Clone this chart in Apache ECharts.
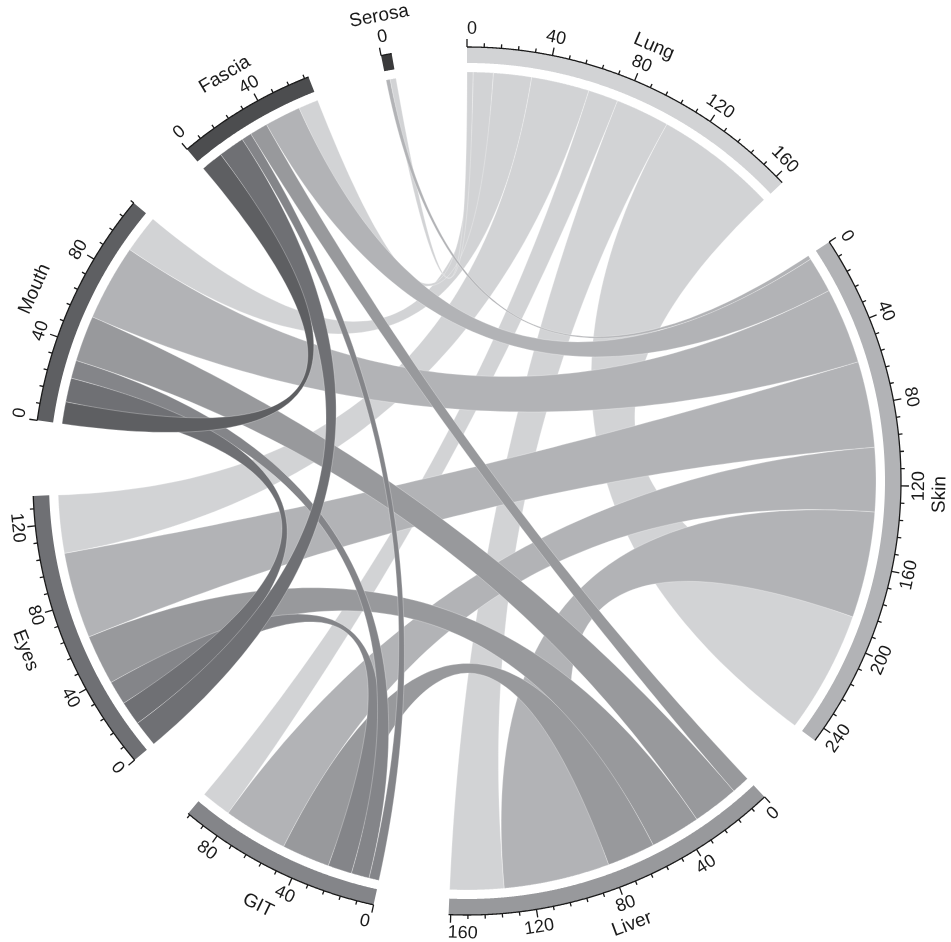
<!DOCTYPE html>
<html>
<head>
<meta charset="utf-8">
<script src="https://cdn.jsdelivr.net/npm/echarts@6/dist/echarts.min.js"></script>
<style>
  html, body { margin: 0; padding: 0; background: #ffffff; }
  #chart { width: 951px; height: 942px; }
</style>
</head>
<body>
<div id="chart"></div>
<script>
// Sites, in clockwise order around the circle
const sectorNames = ['Lung', 'Skin', 'Liver', 'GIT', 'Eyes', 'Mouth', 'Fascia', 'Serosa'];
const sectorColors = ['#D2D3D5', '#B2B3B6', '#98999C', '#848589', '#6F7074', '#5E5F62', '#4C4D4F', '#3A3A3B'];

// Co-occurrence counts between sites (one entry per pair)
const linkSource = ['Lung', 'Lung', 'Lung', 'Lung', 'Lung', 'Lung', 'Lung',
                    'Skin', 'Skin', 'Skin', 'Skin', 'Skin', 'Skin',
                    'Liver', 'Liver', 'Liver', 'Liver',
                    'GIT', 'GIT', 'GIT',
                    'Eyes', 'Eyes',
                    'Mouth'];
const linkTarget = ['Skin', 'Liver', 'GIT', 'Eyes', 'Mouth', 'Fascia', 'Serosa',
                    'Liver', 'GIT', 'Eyes', 'Mouth', 'Fascia', 'Serosa',
                    'GIT', 'Eyes', 'Mouth', 'Fascia',
                    'Eyes', 'Mouth', 'Fascia',
                    'Mouth', 'Fascia',
                    'Fascia'];
const linkValue = [61, 27, 15, 29, 19, 10, 3,
                   53, 32, 43, 38, 18, 2,
                   24, 25, 23, 9,
                   12, 9, 5,
                   12, 13,
                   11];

// Axis ticks along every sector
const TICK_STEP = 8;
const LABEL_STEP = 40;

// ---- layout -------------------------------------------------------------
const N = sectorNames.length;
const idx = name => sectorNames.indexOf(name);
const sectorSize = new Array(N).fill(0);
linkValue.forEach((v, i) => {
  sectorSize[idx(linkSource[i])] += v;
  sectorSize[idx(linkTarget[i])] += v;
});
const total = sectorSize.reduce((a, b) => a + b, 0);
const GAP_DEG = 10;
const unitDeg = (360 - N * GAP_DEG) / total;
const gapUnits = GAP_DEG / unitDeg;
const angleMax = 360 / unitDeg;

const sectorStart = [];
{
  let acc = 0;
  for (let s = 0; s < N; s++) { sectorStart.push(acc); acc += sectorSize[s] + gapUnits; }
}

// position of each link end inside its sector: partners in decreasing site order
const linkEnds = linkValue.map(() => ({}));
for (let s = 0; s < N; s++) {
  let pos = sectorStart[s];
  for (let o = N - 1; o >= 0; o--) {
    if (o === s) continue;
    linkValue.forEach((v, i) => {
      const a = idx(linkSource[i]), b = idx(linkTarget[i]);
      if ((a === s && b === o) || (b === s && a === o)) {
        linkEnds[i][a === s ? 'src' : 'dst'] = [pos, pos + v];
        pos += v;
      }
    });
  }
}

// ---- geometry helpers ---------------------------------------------------
const R_OUT = 434, R_IN = 418, R_LINK = 409;
const TICK_MAJOR = 8, TICK_MINOR = 4;
const R_TICK_LABEL = 452, R_NAME = 473;
const FONT_FAMILY = '"Liberation Sans", Arial, Helvetica, sans-serif';
const TICK_FONT = '18px ' + FONT_FAMILY;
const NAME_FONT = '19px ' + FONT_FAMILY;
const INK = '#1a1a1a';

const measureCtx = document.createElement('canvas').getContext('2d');
function textWidth(txt, font) { measureCtx.font = font; return measureCtx.measureText(txt).width; }

function arcPts(api, r, a0, a1) {
  const n = Math.max(2, Math.ceil(Math.abs(a1 - a0) / 0.4));
  const pts = [];
  for (let j = 0; j <= n; j++) pts.push(api.coord([r, a0 + (a1 - a0) * j / n]));
  return pts;
}
function bezierPts(p0, c, p2, n) {
  const pts = [];
  for (let j = 1; j < n; j++) {
    const t = j / n, u = 1 - t;
    pts.push([u * u * p0[0] + 2 * u * t * c[0] + t * t * p2[0],
              u * u * p0[1] + 2 * u * t * c[1] + t * t * p2[1]]);
  }
  return pts;
}
// clockwise angle from 12 o'clock, read back from the polar coordinate system
function thetaOf(api, a) {
  const c = api.coord([0, a]), p = api.coord([100, a]);
  let t = Math.atan2(p[0] - c[0], c[1] - p[1]) * 180 / Math.PI;
  return (t + 360) % 360;
}
function textRotation(theta) {
  return (theta > 90 && theta < 270) ? (180 - theta) * Math.PI / 180 : -theta * Math.PI / 180;
}
function tangentLabel(api, r, a, txt, font, shift) {
  const th = thetaOf(api, a);
  const p = api.coord([r, a]);
  const rad = th * Math.PI / 180;
  return {
    type: 'text',
    x: p[0] + Math.cos(rad) * shift,
    y: p[1] + Math.sin(rad) * shift,
    rotation: textRotation(th),
    style: { text: txt, font: font, fill: INK, align: 'center', verticalAlign: 'middle',
             textAlign: 'center', textVerticalAlign: 'middle' }
  };
}

// ---- render items -------------------------------------------------------
function renderLink(params, api) {
  const i = params.dataIndex;
  const [a0, a1] = linkEnds[i].src;
  const [b0, b1] = linkEnds[i].dst;
  const c = api.coord([0, 0]);
  const arcA = arcPts(api, R_LINK, a0, a1);
  const arcB = arcPts(api, R_LINK, b0, b1);
  const pts = arcA
    .concat(bezierPts(arcA[arcA.length - 1], c, arcB[0], 80))
    .concat(arcB)
    .concat(bezierPts(arcB[arcB.length - 1], c, arcA[0], 80));
  return {
    type: 'polygon',
    shape: { points: pts },
    style: { fill: sectorColors[idx(linkSource[i])], stroke: 'rgba(255,255,255,0.55)', lineWidth: 0.5 }
  };
}

function renderSector(params, api) {
  const s = params.dataIndex;
  const a0 = sectorStart[s], size = sectorSize[s], a1 = a0 + size;
  const children = [];
  const outer = arcPts(api, R_OUT, a0, a1);
  children.push({ type: 'polygon', shape: { points: outer.concat(arcPts(api, R_IN, a1, a0)) },
                  style: { fill: sectorColors[s] } });
  children.push({ type: 'polyline', shape: { points: outer },
                  style: { stroke: INK, lineWidth: 1.3, fill: null } });
  const pxPerUnit = unitDeg * Math.PI / 180 * R_TICK_LABEL;
  for (let v = 0; v <= size + 1e-9; v += TICK_STEP) {
    const major = v % LABEL_STEP === 0;
    const p0 = api.coord([R_OUT, a0 + v]);
    const p1 = api.coord([R_OUT + (major ? TICK_MAJOR : TICK_MINOR), a0 + v]);
    children.push({ type: 'line', shape: { x1: p0[0], y1: p0[1], x2: p1[0], y2: p1[1] },
                    style: { stroke: INK, lineWidth: 1.3 } });
    if (major) {
      const txt = String(v);
      const hw = textWidth(txt, TICK_FONT) / 2;
      const before = v * pxPerUnit, after = (size - v) * pxPerUnit;
      let shift = 0;
      if (before < hw) shift = hw - before;
      else if (after < hw) shift = -(hw - after);
      children.push(tangentLabel(api, R_TICK_LABEL, a0 + v, txt, TICK_FONT, shift));
    }
  }
  children.push(tangentLabel(api, R_NAME, a0 + size / 2, sectorNames[s], NAME_FONT, 0));
  return { type: 'group', children: children };
}

const chart = echarts.init(document.getElementById('chart'), null, { renderer: 'canvas' });
chart.setOption({
  animation: false,
  backgroundColor: '#ffffff',
  polar: { center: [467, 481], radius: 500 },
  angleAxis: { type: 'value', min: 0, max: angleMax, startAngle: 90, clockwise: true, show: false },
  radiusAxis: { type: 'value', min: 0, max: 500, show: false },
  series: [
    {
      type: 'custom',
      coordinateSystem: 'polar',
      clip: false,
      silent: true,
      data: linkValue.map(() => [0, 0]),
      renderItem: renderLink
    },
    {
      type: 'custom',
      coordinateSystem: 'polar',
      clip: false,
      silent: true,
      data: sectorNames.map(() => [0, 0]),
      renderItem: renderSector
    }
  ]
});
</script>
</body>
</html>
